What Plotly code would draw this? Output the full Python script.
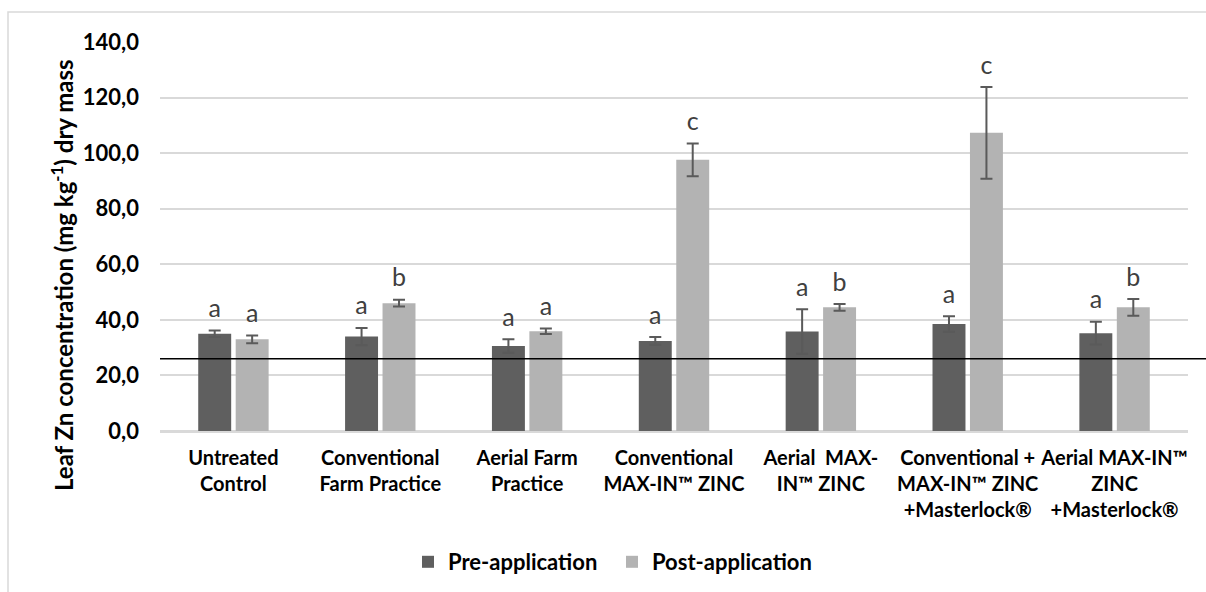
import plotly.graph_objects as go

categories = [
    "Untreated<br>Control",
    "Conventional<br>Farm Practice",
    "Aerial Farm<br>Practice",
    "Conventional<br>MAX-IN™ ZINC",
    "Aerial  MAX-<br>IN™ ZINC",
    "Conventional +<br>MAX-IN™ ZINC<br>+Masterlock®",
    "Aerial MAX-IN™<br>ZINC<br>+Masterlock®",
]
pre_values = [35.0, 34.0, 30.6, 32.4, 35.8, 38.5, 35.2]
pre_errors = [1.2, 3.1, 2.4, 1.4, 8.0, 2.8, 4.1]
post_values = [33.0, 46.0, 35.9, 97.6, 44.5, 107.3, 44.5]
post_errors = [1.4, 1.2, 1.0, 5.9, 1.2, 16.5, 3.0]
pre_letters = ["a", "a", "a", "a", "a", "a", "a"]
post_letters = ["a", "b", "a", "c", "b", "c", "b"]
threshold = 26.0
y_ticks = [0, 20, 40, 60, 80, 100, 120, 140]

FONT = "Lato"
PRE_COLOR = "#5f5f5f"
POST_COLOR = "#b3b3b3"
ERR_COLOR = "#5a5a5a"

fig = go.Figure()
fig.add_trace(go.Bar(
    name="Pre-application", x=categories, y=pre_values,
    marker=dict(color=PRE_COLOR, line=dict(width=0)),
    error_y=dict(type="data", array=pre_errors, color=ERR_COLOR, thickness=2, width=6),
    offsetgroup="pre",
))
fig.add_trace(go.Bar(
    name="Post-application", x=categories, y=post_values,
    marker=dict(color=POST_COLOR, line=dict(width=0)),
    error_y=dict(type="data", array=post_errors, color=ERR_COLOR, thickness=2, width=6),
    offsetgroup="post",
))
for vals, errs, letters, grp in [(pre_values, pre_errors, pre_letters, "pre"),
                                 (post_values, post_errors, post_letters, "post")]:
    fig.add_trace(go.Scatter(
        x=categories, y=[v + e for v, e in zip(vals, errs)],
        mode="markers+text", text=letters, textposition="top center",
        marker=dict(size=10, color="rgba(0,0,0,0)"),
        textfont=dict(family=FONT, size=25, color="#404040"),
        offsetgroup=grp, showlegend=False, hoverinfo="skip",
    ))

L, R, T, B = 160, 18, 42, 161
W, H = 1206, 592
pw, ph = W - L - R, H - T - B

def px_x(p):
    return (p - L) / pw

def px_y(p):
    return (H - B - p) / ph

shapes = [
    dict(type="rect", xref="paper", yref="paper",
         x0=px_x(8), x1=px_x(1212), y0=px_y(12), y1=px_y(600),
         line=dict(color="#d9d9d9", width=1.5), fillcolor="rgba(0,0,0,0)", layer="below"),
    dict(type="line", xref="paper", yref="y", x0=0, x1=px_x(1206),
         y0=threshold, y1=threshold, line=dict(color="black", width=1.5)),
]

annotations = [
    dict(text="Leaf Zn concentration (mg kg<sup>-1</sup>) dry mass",
         xref="paper", yref="paper", x=px_x(62), y=px_y(275),
         xanchor="center", yanchor="middle", textangle=-90, showarrow=False,
         font=dict(family=FONT, size=24, color="black", weight="bold")),
]

fig.update_layout(
    width=W, height=H,
    margin=dict(l=L, r=R, t=T, b=B, autoexpand=False),
    paper_bgcolor="white", plot_bgcolor="white",
    barmode="group", bargap=0.49, bargroupgap=0.12,
    scattermode="group", scattergap=0.49,
    separators=", ",
    font=dict(family=FONT, color="black"),
    shapes=shapes, annotations=annotations,
    legend=dict(orientation="h", x=px_x(612), xanchor="center",
                y=px_y(562), yanchor="middle",
                font=dict(family=FONT, size=22, color="black", weight="bold"),
                itemwidth=30, entrywidth=159, traceorder="normal"),
    xaxis=dict(showgrid=False, showline=True, linecolor="#d9d9d9", linewidth=1.5,
               ticks="", ticklabelstandoff=8,
               tickfont=dict(family=FONT, size=20, color="black", weight="bold"),
               automargin=False, fixedrange=True),
    yaxis=dict(range=[0, 140], tickvals=y_ticks, tickformat=".1f",
               showgrid=True, gridcolor="#d9d9d9", gridwidth=1.5,
               zeroline=True, zerolinecolor="#d9d9d9", zerolinewidth=1.5,
               showline=False, ticks="", ticklabelstandoff=20,
               tickfont=dict(family=FONT, size=22, color="black", weight="bold"),
               automargin=False, fixedrange=True),
)

fig.write_html("out.html", include_plotlyjs=True, config=dict(displayModeBar=False))
